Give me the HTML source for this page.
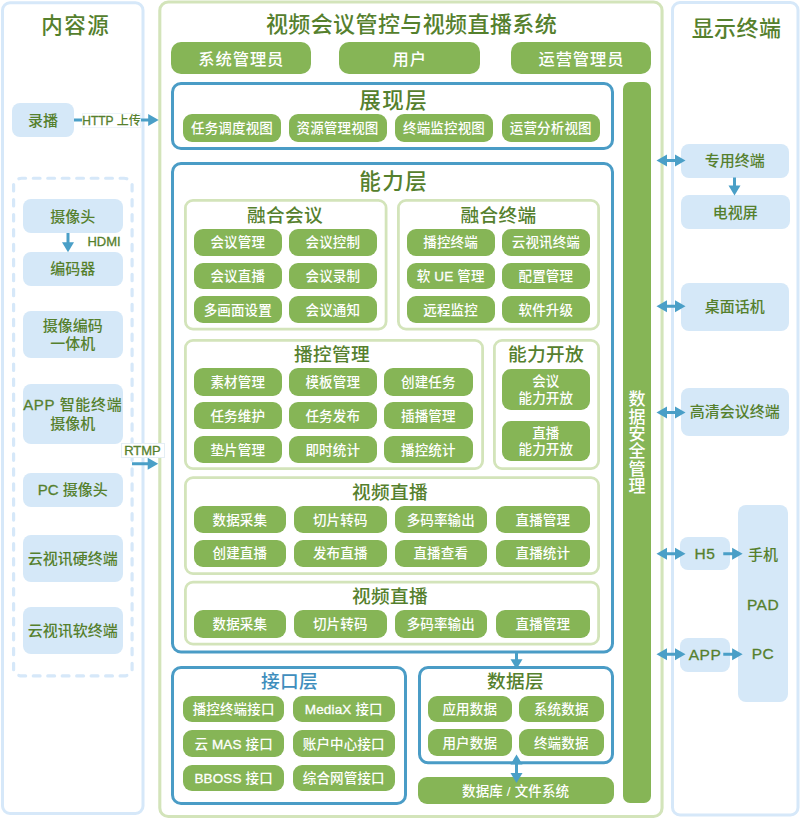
<!DOCTYPE html>
<html lang="zh-CN"><head><meta charset="utf-8"><title>视频会议管控与视频直播系统</title>
<style>
html,body{margin:0;padding:0;background:#fff;}
body{width:800px;height:819px;position:relative;overflow:hidden;font-family:"Liberation Sans","Noto Sans CJK SC",sans-serif;color:#55802d;}
div{box-sizing:border-box;position:absolute;}
.fr{background:transparent;}
.gb{background:#86b556;color:#fff;border-radius:9px;display:flex;align-items:center;justify-content:center;text-align:center;font-size:13.5px;line-height:16px;white-space:nowrap;font-weight:500;padding-top:2.5px;letter-spacing:0.15px;}
.gb.big{font-size:16.3px;border-radius:10px;letter-spacing:0.9px;padding-left:0.9px;padding-top:2.5px;}
.gb.two{line-height:16.5px;}
.gb.vert{font-size:17px;line-height:17.3px;padding-bottom:1px;}
.bb{background:#d5e8f8;color:#55802d;border-radius:8px;display:flex;align-items:center;justify-content:center;text-align:center;font-size:15px;line-height:18.5px;white-space:nowrap;font-weight:500;padding-top:1.5px;}
.bb.lat{font-size:15.5px;letter-spacing:0.5px;padding-left:0.5px;}
.lb{transform:translate(-50%,-50%);white-space:nowrap;line-height:1;}
.t0{font-size:22px;letter-spacing:0.4px;font-weight:500;}
.t1{font-size:21.5px;letter-spacing:1.5px;padding-left:1.5px;margin-top:0.7px;font-weight:500;}
.t2{font-size:18.7px;letter-spacing:0.3px;font-weight:500;}
.blue{color:#3f8ebd;}
.sm{font-size:13px;font-weight:500;}
.md{font-size:15.5px;letter-spacing:0.5px;font-weight:500;}
.tag{background:#fff;font-weight:500;font-size:12px;line-height:14px;padding-top:1.5px;display:flex;align-items:center;justify-content:center;white-space:nowrap;}
svg{position:absolute;left:0;top:0;}
i{font-style:normal;-webkit-text-stroke:0.3px currentColor;}
</style></head>
<body>
<div class="lb t1" style="left:75px;top:26.5px;">内容源</div>
<div class="bb" style="left:12px;top:103px;width:62px;height:34px;"><span>录播</span></div>
<div class="bb" style="left:22.5px;top:199px;width:100.5px;height:34px;"><span>摄像头</span></div>
<div class="bb" style="left:22.5px;top:251.75px;width:100.5px;height:33.75px;"><span>编码器</span></div>
<div class="bb" style="left:22.5px;top:310.75px;width:100.5px;height:47.25px;"><span>摄像编码<br>一体机</span></div>
<div class="bb" style="left:22.5px;top:383.75px;width:100.5px;height:60px;"><span><span style="letter-spacing:0.65px"><i>APP</i> 智能终端</span><br>摄像机</span></div>
<div class="bb" style="left:22.5px;top:473px;width:100.5px;height:33.75px;"><span><i>PC</i> 摄像头</span></div>
<div class="bb" style="left:22.5px;top:534.5px;width:100.5px;height:47.25px;"><span>云视讯硬终端</span></div>
<div class="bb" style="left:22.5px;top:606.75px;width:100.5px;height:47px;"><span>云视讯软终端</span></div>
<div class="lb sm" style="left:104px;top:241.3px;"><i>HDMI</i></div>
<div class="lb t0" style="left:411.5px;top:24.75px;">视频会议管控与视频直播系统</div>
<div class="gb big" style="left:170.5px;top:42.1px;width:140.75px;height:31.8px;"><span>系统管理员</span></div>
<div class="gb big" style="left:339px;top:42.1px;width:140.5px;height:31.8px;"><span>用户</span></div>
<div class="gb big" style="left:510.75px;top:42.1px;width:140.5px;height:31.8px;"><span>运营管理员</span></div>
<div class="lb t1" style="left:393px;top:101px;">展现层</div>
<div class="gb" style="left:183px;top:114px;width:98px;height:27.5px;"><span>任务调度视图</span></div>
<div class="gb" style="left:288.5px;top:114px;width:98px;height:27.5px;"><span>资源管理视图</span></div>
<div class="gb" style="left:395px;top:114px;width:98px;height:27.5px;"><span>终端监控视图</span></div>
<div class="gb" style="left:501.75px;top:114px;width:98px;height:27.5px;"><span>运营分析视图</span></div>
<div class="lb t1" style="left:393px;top:182.75px;">能力层</div>
<div class="lb t2" style="left:285px;top:216px;">融合会议</div>
<div class="gb" style="left:193.75px;top:228.75px;width:88px;height:26.75px;"><span>会议管理</span></div>
<div class="gb" style="left:288.75px;top:228.75px;width:88.25px;height:26.75px;"><span>会议控制</span></div>
<div class="gb" style="left:193.75px;top:262.5px;width:88px;height:26.75px;"><span>会议直播</span></div>
<div class="gb" style="left:288.75px;top:262.5px;width:88.25px;height:26.75px;"><span>会议录制</span></div>
<div class="gb" style="left:193.75px;top:296.25px;width:88px;height:26.75px;"><span>多画面设置</span></div>
<div class="gb" style="left:288.75px;top:296.25px;width:88.25px;height:26.75px;"><span>会议通知</span></div>
<div class="lb t2" style="left:498.5px;top:216px;">融合终端</div>
<div class="gb" style="left:406.75px;top:228.75px;width:87.75px;height:26.75px;"><span>播控终端</span></div>
<div class="gb" style="left:501.75px;top:228.75px;width:88.25px;height:26.75px;"><span>云视讯终端</span></div>
<div class="gb" style="left:406.75px;top:262.5px;width:87.75px;height:26.75px;"><span>软 <i>UE</i> 管理</span></div>
<div class="gb" style="left:501.75px;top:262.5px;width:88.25px;height:26.75px;"><span>配置管理</span></div>
<div class="gb" style="left:406.75px;top:296.25px;width:87.75px;height:26.75px;"><span>远程监控</span></div>
<div class="gb" style="left:501.75px;top:296.25px;width:88.25px;height:26.75px;"><span>软件升级</span></div>
<div class="lb t2" style="left:332px;top:354.75px;">播控管理</div>
<div class="gb" style="left:193.75px;top:368.25px;width:88px;height:27.25px;"><span>素材管理</span></div>
<div class="gb" style="left:288.75px;top:368.25px;width:88px;height:27.25px;"><span>模板管理</span></div>
<div class="gb" style="left:384.25px;top:368.25px;width:88.25px;height:27.25px;"><span>创建任务</span></div>
<div class="gb" style="left:193.75px;top:402px;width:88px;height:27.25px;"><span>任务维护</span></div>
<div class="gb" style="left:288.75px;top:402px;width:88px;height:27.25px;"><span>任务发布</span></div>
<div class="gb" style="left:384.25px;top:402px;width:88.25px;height:27.25px;"><span>插播管理</span></div>
<div class="gb" style="left:193.75px;top:435.5px;width:88px;height:27.5px;"><span>垫片管理</span></div>
<div class="gb" style="left:288.75px;top:435.5px;width:88px;height:27.5px;"><span>即时统计</span></div>
<div class="gb" style="left:384.25px;top:435.5px;width:88.25px;height:27.5px;"><span>播控统计</span></div>
<div class="lb t2" style="left:546px;top:354.75px;">能力开放</div>
<div class="gb two" style="left:501.75px;top:369.25px;width:88.25px;height:40.75px;"><span>会议<br>能力开放</span></div>
<div class="gb two" style="left:501.75px;top:420.5px;width:88.25px;height:40.75px;"><span>直播<br>能力开放</span></div>
<div class="lb t2" style="left:390px;top:492.5px;">视频直播</div>
<div class="gb" style="left:193.75px;top:505.5px;width:92.25px;height:27.5px;"><span>数据采集</span></div>
<div class="gb" style="left:293.75px;top:505.5px;width:93px;height:27.5px;"><span>切片转码</span></div>
<div class="gb" style="left:394.5px;top:505.5px;width:92.5px;height:27.5px;"><span>多码率输出</span></div>
<div class="gb" style="left:496.25px;top:505.5px;width:93.25px;height:27.5px;"><span>直播管理</span></div>
<div class="gb" style="left:193.75px;top:539.5px;width:92.25px;height:27.25px;"><span>创建直播</span></div>
<div class="gb" style="left:293.75px;top:539.5px;width:93px;height:27.25px;"><span>发布直播</span></div>
<div class="gb" style="left:394.5px;top:539.5px;width:92.5px;height:27.25px;"><span>直播查看</span></div>
<div class="gb" style="left:496.25px;top:539.5px;width:93.25px;height:27.25px;"><span>直播统计</span></div>
<div class="lb t2" style="left:390px;top:597.25px;">视频直播</div>
<div class="gb" style="left:193.75px;top:610px;width:92.25px;height:27.5px;"><span>数据采集</span></div>
<div class="gb" style="left:293.75px;top:610px;width:93px;height:27.5px;"><span>切片转码</span></div>
<div class="gb" style="left:394.5px;top:610px;width:92.5px;height:27.5px;"><span>多码率输出</span></div>
<div class="gb" style="left:496.25px;top:610px;width:93.25px;height:27.5px;"><span>直播管理</span></div>
<div class="lb t2 blue" style="left:289.5px;top:682px;">接口层</div>
<div class="gb" style="left:183px;top:695.5px;width:101.25px;height:26.5px;"><span>播控终端接口</span></div>
<div class="gb" style="left:293px;top:695.5px;width:101.5px;height:26.5px;"><span><i>MediaX</i> 接口</span></div>
<div class="gb" style="left:183px;top:730px;width:101.25px;height:26.75px;"><span>云 <i>MAS</i> 接口</span></div>
<div class="gb" style="left:293px;top:730px;width:101.5px;height:26.75px;"><span>账户中心接口</span></div>
<div class="gb" style="left:183px;top:764.5px;width:101.25px;height:26.75px;"><span><i>BBOSS</i> 接口</span></div>
<div class="gb" style="left:293px;top:764.5px;width:101.5px;height:26.75px;"><span>综合网管接口</span></div>
<div class="lb t2" style="left:515.6px;top:682px;">数据层</div>
<div class="gb" style="left:427.5px;top:695.5px;width:84.5px;height:26.5px;"><span>应用数据</span></div>
<div class="gb" style="left:518.75px;top:695.5px;width:85px;height:26.5px;"><span>系统数据</span></div>
<div class="gb" style="left:427.5px;top:729.25px;width:84.5px;height:27px;"><span>用户数据</span></div>
<div class="gb" style="left:518.75px;top:729.25px;width:85px;height:27px;"><span>终端数据</span></div>
<div class="gb" style="left:417.5px;top:777px;width:196.25px;height:26.75px;"><span>数据库 / 文件系统</span></div>
<div class="gb vert" style="left:623px;top:82px;width:28px;height:721.25px;border-radius:7px;"><span>数<br>据<br>安<br>全<br>管<br>理</span></div>
<div class="lb t0" style="left:736.5px;top:29px;">显示终端</div>
<div class="bb" style="left:680.5px;top:143.5px;width:108.75px;height:34px;"><span>专用终端</span></div>
<div class="bb" style="left:681px;top:195px;width:108.5px;height:34.25px;"><span>电视屏</span></div>
<div class="bb" style="left:680.5px;top:282.5px;width:108.75px;height:48px;"><span>桌面话机</span></div>
<div class="bb" style="left:680.5px;top:388.25px;width:108.75px;height:47.25px;"><span>高清会议终端</span></div>
<div class="bb" style="left:738.25px;top:505px;width:50px;height:197px;"></div>
<div class="bb lat" style="left:679.5px;top:536.75px;width:50.5px;height:33.25px;"><span><i>H5</i></span></div>
<div class="bb lat" style="left:679.5px;top:638px;width:50.5px;height:33.75px;"><span><i>APP</i></span></div>
<div class="lb md" style="left:763px;top:553.5px;font-size:15px;letter-spacing:0;">手机</div>
<div class="lb md" style="left:763px;top:605.25px;"><i>PAD</i></div>
<div class="lb md" style="left:763px;top:654.4px;"><i>PC</i></div>
<svg width="800" height="819" viewBox="0 0 800 819">
<rect x="2.5" y="2.75" width="140.5" height="810.75" rx="7.5" ry="7.5" fill="none" stroke="#d6e8f9" stroke-width="3"/>
<rect x="159.8" y="2.05" width="502.25" height="814.4" rx="8.45" ry="8.45" fill="none" stroke="#d3e4ba" stroke-width="3.1"/>
<rect x="672.5" y="2.5" width="125.5" height="812.5" rx="7.5" ry="7.5" fill="none" stroke="#d6e8f9" stroke-width="3"/>
<rect x="172.5" y="83.5" width="440" height="65" rx="8.5" ry="8.5" fill="none" stroke="#4a9cc6" stroke-width="3"/>
<rect x="172.5" y="163.5" width="440" height="488.5" rx="8.5" ry="8.5" fill="none" stroke="#4a9cc6" stroke-width="3"/>
<rect x="185.4" y="200.4" width="200.7" height="128.7" rx="7.6" ry="7.6" fill="none" stroke="#d3e4ba" stroke-width="2.8"/>
<rect x="398.4" y="200.4" width="200.2" height="128.7" rx="7.6" ry="7.6" fill="none" stroke="#d3e4ba" stroke-width="2.8"/>
<rect x="185.4" y="340.4" width="297.2" height="128.2" rx="7.6" ry="7.6" fill="none" stroke="#d3e4ba" stroke-width="2.8"/>
<rect x="494.4" y="340.4" width="104.2" height="128.2" rx="7.6" ry="7.6" fill="none" stroke="#d3e4ba" stroke-width="2.8"/>
<rect x="185.4" y="477.65" width="413.2" height="95.95" rx="7.6" ry="7.6" fill="none" stroke="#d3e4ba" stroke-width="2.8"/>
<rect x="185.4" y="582.15" width="413.2" height="61.95" rx="7.6" ry="7.6" fill="none" stroke="#d3e4ba" stroke-width="2.8"/>
<rect x="172.5" y="667.5" width="233" height="136" rx="8.5" ry="8.5" fill="none" stroke="#4a9cc6" stroke-width="3"/>
<rect x="419.5" y="667.5" width="193" height="95.25" rx="8.5" ry="8.5" fill="none" stroke="#4a9cc6" stroke-width="3"/>
<path d="M18.85,178.74 A8,8 0 0 1 21.6,178.25 L124.1,178.25 A8,8 0 0 1 126.85,178.74" fill="none" stroke="#d6e8f9" stroke-width="3.2" stroke-linecap="round" stroke-dasharray="6.8 7.67"/>
<path d="M18.85,675.41 A8,8 0 0 0 21.6,675.9 L124.1,675.9 A8,8 0 0 0 126.85,675.41" fill="none" stroke="#d6e8f9" stroke-width="3.2" stroke-linecap="round" stroke-dasharray="6.8 7.67"/>
<path d="M13.6,184.6 L13.6,669.8" fill="none" stroke="#d6e8f9" stroke-width="3.2" stroke-linecap="round" stroke-dasharray="6.4 8.56"/>
<path d="M132.1,184.6 L132.1,669.8" fill="none" stroke="#d6e8f9" stroke-width="3.2" stroke-linecap="round" stroke-dasharray="6.4 8.56"/>
<line x1="74" y1="120" x2="150.2" y2="120" stroke="#4a9fc7" stroke-width="3"/>
<polygon points="158.7,120 148.2,114 148.2,126" fill="#4a9fc7"/>
<line x1="132" y1="463.75" x2="149.7" y2="463.75" stroke="#4a9fc7" stroke-width="3"/>
<polygon points="158.2,463.75 147.7,457.75 147.7,469.75" fill="#4a9fc7"/>
<line x1="68" y1="233" x2="68" y2="244.3" stroke="#4a9fc7" stroke-width="3"/>
<polygon points="68,252.3 62,242.3 74,242.3" fill="#4a9fc7"/>
<line x1="665" y1="160.5" x2="677" y2="160.5" stroke="#4a9fc7" stroke-width="3"/>
<polygon points="685.5,160.5 675,154.5 675,166.5" fill="#4a9fc7"/>
<polygon points="656.5,160.5 667,154.5 667,166.5" fill="#4a9fc7"/>
<line x1="665" y1="306.25" x2="677" y2="306.25" stroke="#4a9fc7" stroke-width="3"/>
<polygon points="685.5,306.25 675,300.25 675,312.25" fill="#4a9fc7"/>
<polygon points="656.5,306.25 667,300.25 667,312.25" fill="#4a9fc7"/>
<line x1="665" y1="412.5" x2="677" y2="412.5" stroke="#4a9fc7" stroke-width="3"/>
<polygon points="685.5,412.5 675,406.5 675,418.5" fill="#4a9fc7"/>
<polygon points="656.5,412.5 667,406.5 667,418.5" fill="#4a9fc7"/>
<line x1="665" y1="553.75" x2="677" y2="553.75" stroke="#4a9fc7" stroke-width="3"/>
<polygon points="685.5,553.75 675,547.75 675,559.75" fill="#4a9fc7"/>
<polygon points="656.5,553.75 667,547.75 667,559.75" fill="#4a9fc7"/>
<line x1="665" y1="654.25" x2="677" y2="654.25" stroke="#4a9fc7" stroke-width="3"/>
<polygon points="685.5,654.25 675,648.25 675,660.25" fill="#4a9fc7"/>
<polygon points="656.5,654.25 667,648.25 667,660.25" fill="#4a9fc7"/>
<line x1="723.25" y1="553.75" x2="734.1" y2="553.75" stroke="#4a9fc7" stroke-width="3"/>
<polygon points="742.6,553.75 732.1,547.75 732.1,559.75" fill="#4a9fc7"/>
<line x1="723.25" y1="654.25" x2="734.1" y2="654.25" stroke="#4a9fc7" stroke-width="3"/>
<polygon points="742.6,654.25 732.1,648.25 732.1,660.25" fill="#4a9fc7"/>
<line x1="734.5" y1="177.5" x2="734.5" y2="187.5" stroke="#4a9fc7" stroke-width="3"/>
<polygon points="734.5,195.5 728.5,185.5 740.5,185.5" fill="#4a9fc7"/>
<line x1="516.5" y1="652.5" x2="516.5" y2="661.2" stroke="#4a9fc7" stroke-width="3"/>
<polygon points="516.5,669.2 510.5,659.2 522.5,659.2" fill="#4a9fc7"/>
<line x1="516.5" y1="762.5" x2="516.5" y2="775" stroke="#4a9fc7" stroke-width="3"/>
<polygon points="516.5,783 510.5,773 522.5,773" fill="#4a9fc7"/>
<polygon points="516.5,754.5 510.5,764.5 522.5,764.5" fill="#4a9fc7"/>
</svg>
<div class="tag" style="left:82px;top:112.5px;width:59px;height:15.5px;border:1px solid #edf4fa;"><span><i>HTTP</i> 上传</span></div>
<div class="tag" style="left:120.5px;top:443px;width:44px;height:14.5px;border:1px solid #e4eef5;font-size:13px;"><span><i>RTMP</i></span></div>
</body></html>
